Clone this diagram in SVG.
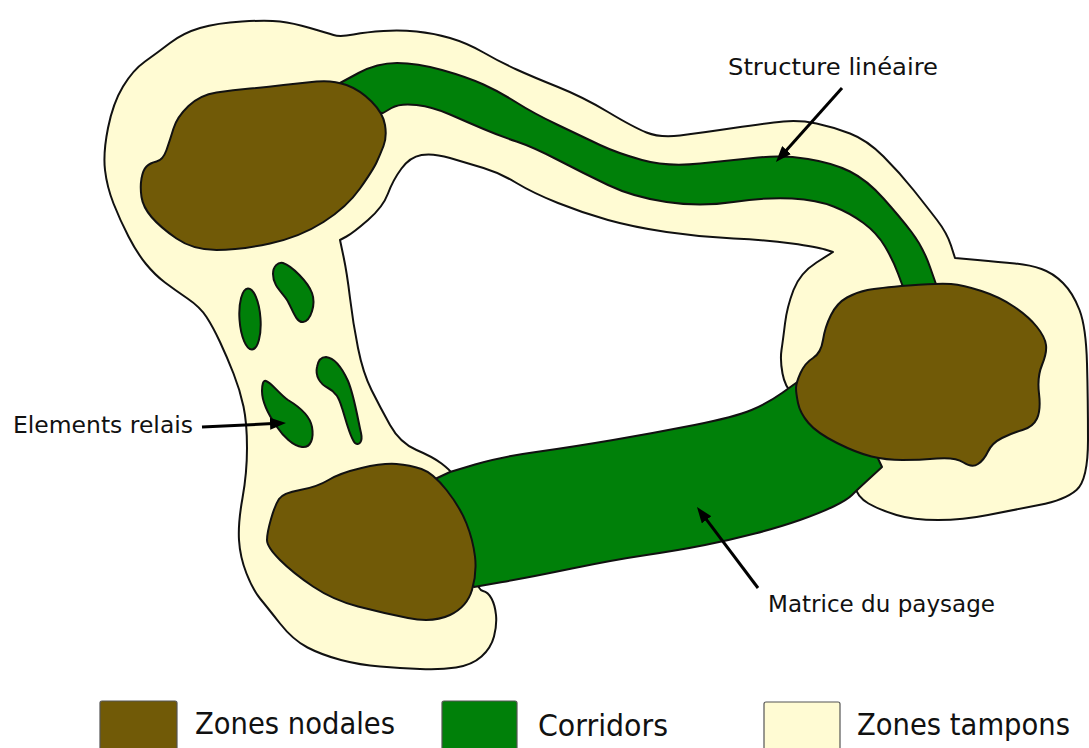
<svg xmlns="http://www.w3.org/2000/svg" width="1089" height="748" viewBox="0 0 1089 748">
<defs>
<style>
.cream{fill:#fffbd3;stroke:#111;stroke-width:2;stroke-linejoin:round}
.green{fill:#008009;stroke:#111;stroke-width:2;stroke-linejoin:round}
.brown{fill:#715a07;stroke:#111;stroke-width:2;stroke-linejoin:round}
.lbl{font-family:"DejaVu Sans","Liberation Sans",sans-serif;font-size:23px;fill:#111}
.leg{font-family:"DejaVu Sans","Liberation Sans",sans-serif;font-size:30px;fill:#111}
.arr{stroke:#000;stroke-width:3;fill:none;marker-end:url(#ah)}
.box{stroke:#555;stroke-width:1.2}
</style>
<marker id="ah" markerUnits="userSpaceOnUse" markerWidth="16" markerHeight="12" refX="3" refY="6" orient="auto">
<path d="M0,0 L16,6 L0,12 z" fill="#000"/>
</marker>
</defs>
<rect width="1089" height="748" fill="#fff"/>

<g id="zones-tampons">
<path class="cream" d="M483,591 Q488,592 491.5,598.5 Q495,605 496,615 Q497,625 494,636.5 Q491,648 481.5,656.5 Q472,665 456,667.5 Q440,670 420,669 Q400,668 380,666.5 Q360,665 341,660 Q322,655 307.5,647.5 Q293,640 280,623.5 Q267,607 260,598.5 Q253,590 246.5,573.5 Q240,557 239,540 Q238,523 242.5,498 Q247,473 247,448 Q247,423 243.5,406.5 Q240,390 233.5,373.5 Q227,357 220,342 Q213,327 206.5,317 Q200,307 187.5,298.5 Q175,290 165,282.5 Q155,275 146,264 Q137,253 128.5,236.5 Q120,220 113.5,203.5 Q107,187 105,170 Q103,153 108,128 Q113,103 123,86.5 Q133,70 145,61.5 Q157,53 170,43 Q183,33 200,28 Q217,23 242,21.5 Q267,20 280,21.5 Q293,23 310,28 Q327,33 333.5,35 Q340,37 353.5,34.5 Q367,32 383.5,31 Q400,30 416.5,31.5 Q433,33 450,38 Q467,43 483.5,52.5 Q500,62 516.5,69.5 Q533,77 558,87 Q583,97 608,112 Q633,127 646.5,132.5 Q660,138 680,135.5 Q700,133 733.5,128 Q767,123 783.5,121.5 Q800,120 816.5,123.5 Q833,127 850,133.5 Q867,140 883.5,156.5 Q900,173 913.5,190 Q927,207 937,220 Q947,233 951,245.5 L955,258 L977.5,260 Q1000,262 1015,263.5 Q1030,265 1041.5,269 Q1053,273 1063,283 Q1073,293 1079.5,310 Q1086,327 1087,363.5 Q1088,400 1088,440 Q1088,480 1076.5,490 Q1065,500 1039,505 Q1013,510 988,515 Q963,520 938,520 Q913,520 896.5,515 Q880,510 868.5,503.5 Q857,497 853.5,483.5 Q850,470 825,435 Q800,400 792.5,393.5 Q785,387 782.5,373.5 Q780,360 781.5,350 Q783,340 785,323.5 Q787,307 793.5,290 Q800,273 816.5,262.5 L833,252 L825,249.5 Q817,247 792,243.5 Q767,240 733.5,238.5 Q700,237 666.5,232 Q633,227 608,220 Q583,213 558,203 Q533,193 516.5,183 Q500,173 483.5,168 Q467,163 450,158 Q433,153 421.5,155 Q410,157 401.5,168.5 Q393,180 388,193.5 Q383,207 368,220 Q353,233 346.5,236.5 L340,240 L343.5,256.5 Q347,273 350,298 Q353,323 358,348 Q363,373 371.5,390 Q380,407 390,425 Q400,443 416.5,450 Q433,457 441.5,463.5 Q450,470 452.5,474 Q455,478 462.5,519 Q470,560 474,575 Q478,590 483,591 Z"/>
</g>

<g id="corridor-haut">
<path class="green" d="M350,100 L340,83 L358.5,73 Q377,63 397,63 Q417,63 442,70 Q467,77 483.5,84.5 Q500,92 516.5,102.5 Q533,113 558,125 Q583,137 600,145 Q617,153 642,160 Q667,167 700,163.5 Q733,160 758,157.5 Q783,155 808,159 Q833,163 850,171.5 Q867,180 883.5,198.5 Q900,217 911.5,232 Q923,247 930,267 L937,287 L937,300 L903,300 L903,287 L898,273.5 Q893,260 885,246.5 Q877,233 863.5,223 Q850,213 833.5,206.5 Q817,200 792,198.5 Q767,197 733.5,202 Q700,207 666.5,202 Q633,197 608,185 Q583,173 558,160 Q533,147 516.5,141.5 Q500,136 483.5,129 Q467,122 450,114.5 Q433,107 416.5,105 Q400,103 391.5,108 L383,113 L370,112 Z"/>
</g>

<g id="corridor-bas">
<path class="green" d="M433,480 L450,472 L475,464.5 Q500,457 536,452 Q572,447 613,440 Q654,433 694.5,425 Q735,417 751.5,410 Q768,403 782,393 L796,383 L830,370 L860,420 L882,467 L869.5,478.5 Q857,490 852,495 Q847,500 833.5,506.5 Q820,513 800,520 Q780,527 755,533.5 Q730,540 705,545 Q680,550 646.5,555 Q613,560 572,568.5 Q531,577 502.5,582 L474,587 L460,560 L440,500 Z"/>
</g>

<g id="zone-nodale-1">
<path class="brown" d="M188.5,106 Q200,95 216.5,92.5 Q233,90 250,88.5 Q267,87 283.5,85 Q300,83 316.5,81.5 Q333,80 346.5,85 Q360,90 371.5,101.5 Q383,113 385,125 Q387,137 383.5,146 Q380,155 376.5,162.5 Q373,170 360,188.5 Q347,207 323.5,222 Q300,237 270,243.5 Q240,250 216.5,250 Q193,250 176.5,238.5 Q160,227 151.5,217 Q143,207 141.5,197 Q140,187 141.5,178.5 Q143,170 146.5,166.5 Q150,163 156.5,161.5 Q163,160 166.5,150 Q170,140 173.5,128.5 Q177,117 188.5,106 Z"/>
</g>

<g id="zone-nodale-2">
<path class="brown" d="M271,519 Q275,505 279,499 Q283,493 300,490 Q317,487 328.5,480 Q340,473 361.5,468 Q383,463 396.5,464 Q410,465 421.5,469 Q433,473 446.5,490 Q460,507 466.5,523.5 Q473,540 475,556.5 Q477,573 472,590 Q467,607 450,615 Q433,623 408,618 Q383,613 358,606.5 Q333,600 313,586.5 Q293,573 280,560 Q267,547 267,540 Q267,533 271,519 Z"/>
</g>

<g id="zone-nodale-3">
<path class="brown" d="M800.5,373 Q805,363 813,358 Q821,353 823,340 Q825,327 831,315 Q837,303 847,297.5 Q857,292 867.5,290 Q878,288 908.5,285.5 Q939,283 951,284 Q963,285 981.5,291 Q1000,297 1014.5,307 Q1029,317 1037,327 Q1045,337 1046,345 Q1047,353 1042,365 Q1037,377 1039,393.5 Q1041,410 1037,418.5 Q1033,427 1022.5,430 Q1012,433 1002,438 Q992,443 988,451.5 Q984,460 978,464 Q972,468 963.5,462.5 Q955,457 937,458.5 Q919,460 902.5,460 Q886,460 871.5,456.5 Q857,453 837,443 Q817,433 808.5,423 Q800,413 798,403 Q796,393 796,388 Q796,383 800.5,373 Z"/>
</g>

<g id="elements-relais">
<ellipse class="green" cx="250" cy="319" rx="10.5" ry="30.5" transform="rotate(-4 250 319)"/>
<path class="green" d="M283,263 C292,266 308,282 312,293 C316,304 311,321 303,322 C296,323 292,308 287,300 C282,292 273,286 273,274 C273,266 278,262 283,263 Z"/>
<path class="green" d="M266,381 C272,383 279,394 288,400 C298,406 310,415 312,427 C314,438 311,448 302,447 C293,446 283,436 277,427 C270,417 262,403 262,391 C262,385 263,380 266,381 Z"/>
<path class="green" d="M326,357 C335,358 343,370 348,381 C354,395 358,420 361,433 C363,442 359,446 355,443 C350,438 346,420 342,408 C339,398 336,392 328,388 C320,384 315,376 317,367 C318,361 321,357 326,357 Z"/>
</g>

<g id="connecteurs">
<path class="arr" d="M842,88 L784.6,152.3"/>
<path class="arr" d="M202,427 L273,423.6"/>
<path class="arr" d="M758,588 L704.8,517.4"/>
</g>

<g id="etiquettes">
<text class="lbl" x="728" y="75" textLength="210" lengthAdjust="spacingAndGlyphs">Structure linéaire</text>
<text class="lbl" x="13" y="433" textLength="180" lengthAdjust="spacingAndGlyphs">Elements relais</text>
<text class="lbl" x="768" y="612" textLength="227" lengthAdjust="spacingAndGlyphs">Matrice du paysage</text>
</g>

<g id="legende">
<rect class="box" x="100" y="701" width="77" height="52" rx="2" fill="#715a07"/>
<text class="leg" x="195" y="734" textLength="200" lengthAdjust="spacingAndGlyphs">Zones nodales</text>
<rect class="box" x="442" y="701" width="75" height="52" rx="2" fill="#008009"/>
<text class="leg" x="538" y="736" textLength="130" lengthAdjust="spacingAndGlyphs">Corridors</text>
<rect class="box" x="764" y="702" width="76" height="52" rx="2" fill="#fffbd3"/>
<text class="leg" x="857" y="735" textLength="213" lengthAdjust="spacingAndGlyphs">Zones tampons</text>
</g>
</svg>
